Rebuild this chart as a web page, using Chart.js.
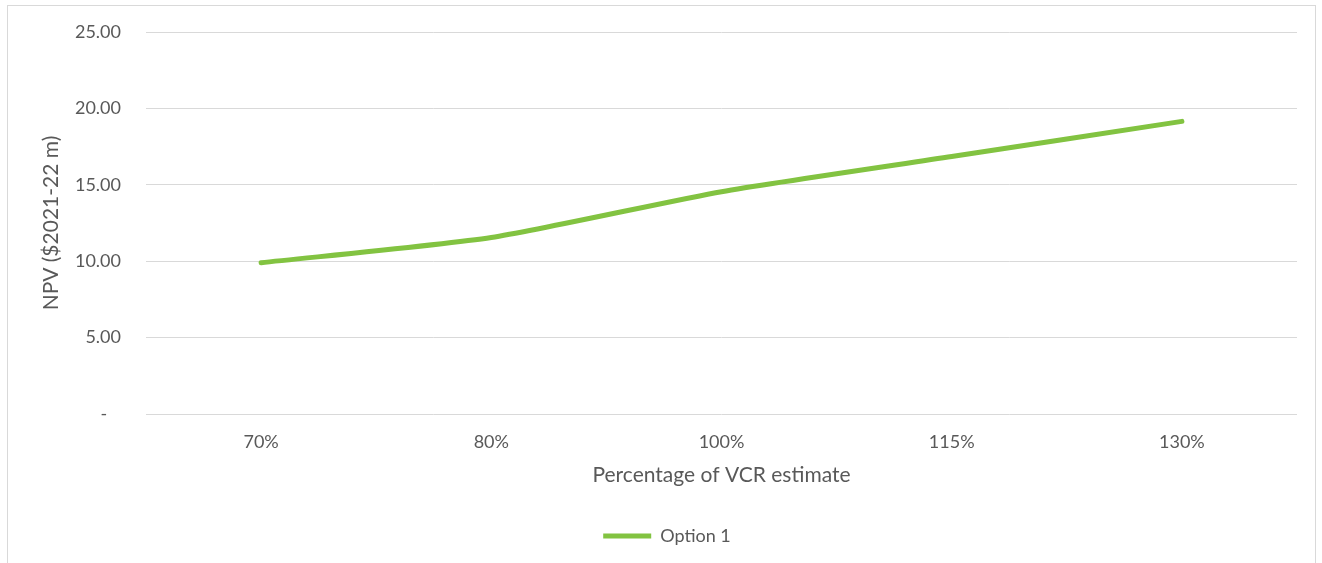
<!DOCTYPE html>
<html>
<head>
<meta charset="utf-8">
<script src="https://cdn.jsdelivr.net/npm/chart.js@4.4.1/dist/chart.umd.min.js"></script>
<style>
  html, body { margin: 0; padding: 0; background: #ffffff; overflow: hidden; }
  #frame {
    position: absolute; left: 7px; top: 5px; width: 1309px; height: 620px;
    border: 1px solid #d9d9d9; box-sizing: border-box;
  }
  #wrap { position: absolute; left: 0; top: 0; width: 1322px; height: 563px; }
</style>
</head>
<body>
<div id="frame"></div>
<div id="wrap"><canvas id="chart" width="1322" height="563"></canvas></div>
<script>
// NPV sensitivity to the VCR estimate
const categories = ['70%', '80%', '100%', '115%', '130%'];
const option1 = [9.9, 11.55, 14.55, 16.85, 19.15];
const seriesName = 'Option 1';
const yTitle = 'NPV ($2021-22 m)';
const xTitle = 'Percentage of VCR estimate';

const TEXT = '#595959';
const GREEN = '#82c341';
const FONT = 'Lato, "Noto Sans", sans-serif';

new Chart(document.getElementById('chart'), {
  type: 'line',
  data: {
    labels: categories,
    datasets: [{
      label: seriesName,
      data: option1,
      borderColor: GREEN,
      backgroundColor: GREEN,
      borderWidth: 5,
      borderCapStyle: 'round',
      borderJoinStyle: 'round',
      tension: 0.2,
      pointRadius: 0,
      pointHoverRadius: 0,
      pointStyle: 'line',
      fill: false
    }]
  },
  options: {
    responsive: false,
    animation: false,
    layout: { padding: { left: 37, right: 25, top: 32, bottom: 8 } },
    plugins: {
      tooltip: { enabled: false },
      legend: {
        position: 'bottom',
        labels: {
          usePointStyle: true,
          pointStyleWidth: 48,
          boxHeight: 5,
          padding: 10,
          color: TEXT,
          font: { family: FONT, size: 18 }
        }
      }
    },
    scales: {
      x: {
        offset: true,
        grid: { display: false, drawTicks: false },
        border: { display: false },
        ticks: { color: TEXT, font: { family: FONT, size: 18 }, padding: 17 },
        title: {
          display: true, text: xTitle, color: TEXT,
          font: { family: FONT, size: 21 }, padding: { top: 10, bottom: 29 }
        },
        afterFit: (s) => { s.height = 103; }
      },
      y: {
        min: 0, max: 25,
        grid: { color: '#d9d9d9', lineWidth: 1, drawTicks: false },
        border: { display: false },
        ticks: {
          stepSize: 5,
          color: TEXT,
          font: { family: FONT, size: 18 },
          padding: 25,
          callback: (v) => v === 0 ? '-   ' : v.toFixed(2)
        },
        title: {
          display: true, text: yTitle, color: TEXT,
          font: { family: FONT, size: 21 }, padding: { top: 2, bottom: 0 }
        },
        afterFit: (s) => { s.width = 109; s.paddingTop = 0; s.paddingBottom = 0; }
      }
    }
  }
});
</script>
</body>
</html>
